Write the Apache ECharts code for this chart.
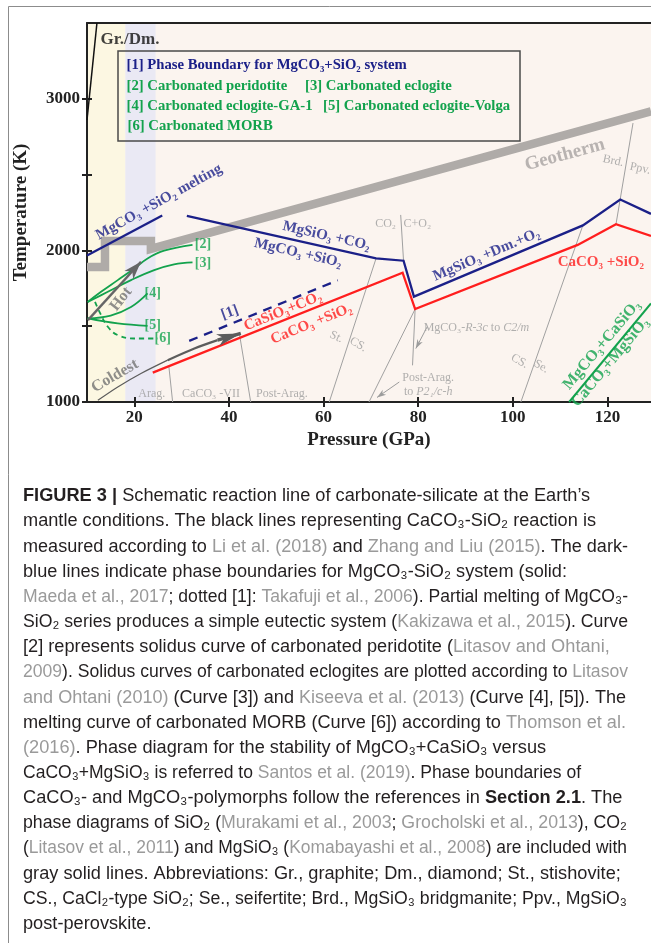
<!DOCTYPE html>
<html><head><meta charset="utf-8">
<script src="https://cdn.jsdelivr.net/npm/echarts@6/dist/echarts.min.js"></script>
<style>html,body{margin:0;padding:0;background:#fff;}#c{width:651px;height:943px;}</style>
</head><body><div id="c"></div>
<script>
// ================= DATA (GPa, K) =================
const xTicks = [20, 40, 60, 80, 100, 120];
const yTicks = [1000, 1500, 2000, 2500, 3000];
const yLabels = [1000, 2000, 3000];
const yellowBand = [10, 18.1];
const lavenderBand = [18.1, 24.5];
const geotherm = [[10,1890],[13.8,1890],[13.8,2062],[23.5,2062],[23.5,2010],[129.2,2918]];
const grDm = [[10,2860],[12.1,3500]];
const mgMelting = [[10,1966],[25.9,2230]];
const mgBoundary = [[31.1,2227],[71.1,1948],[76.9,1932],[79.1,1695],[114.8,2165],[122.7,2336],[129.2,2241]];
const mgTakafuji = [[31.6,1403],[63,1803]];
const caBoundary = [[23.9,1194],[76.7,1853],[79.35,1613],[113.7,2036],[121.8,2173],[129.2,2095]];
const curve2 = [[10.15,1660],[12.97,1727],[16.5,1804],[20,1881],[22.8,1947],[26.3,1998],[32.3,2036]];
const curve3 = [[10.15,1660],[14.4,1727],[19.3,1804],[24.2,1870],[28.4,1908],[32.3,1921]];
const curve4 = [[10.15,1551],[15,1570],[19.3,1626],[22.8,1716]];
const curve5 = [[10.15,1551],[16.5,1518],[22.8,1502]];
const curve6 = [[11.7,1661],[12.8,1584],[14.4,1496],[16.5,1441],[20,1419],[24.9,1419]];
const santos = [[111.9,1000],[129.2,1650]];
const greyBoundaries = [
  [[28.1,1000],[27.3,1235]],
  [[44.6,1000],[42.2,1452]],
  [[61.2,1000],[71.1,1948]],
  [[69.6,1000],[79.35,1613]],
  [[78.8,1242],[79.35,1613]],
  [[76.3,2234],[76.9,1932]],
  [[101.7,1000],[114.8,2165]],
  [[121.8,2173],[125.4,2840]]
];
const coldest = [[12.3,1011],[16.5,1099],[21.4,1188],[27.05,1276],[32.7,1353],[37.6,1408],[42.5,1452]];
const hot = [[10.2,1540],[21.4,1925]];
const pointerArrows = [[[81.9,1496],[79.5,1353]], [[76.0,1132],[71.3,1030]]];

// ================= ANNOTATIONS (text, anchor in data coords) =================
const notesBlack = [['Gr./Dm.', 19.1, 3388]];
const notesNavy = [
  ['MgCO\u2083 +SiO\u2082 melting', 25.2, 2319, 29],
  ['MgSiO\u2083 +CO\u2082', 60.6, 2095, -13],
  ['MgCO\u2083 +SiO\u2082', 54.6, 1983, -13],
  ['[1]', 40.2, 1590, 20],
  ['MgSiO\u2083 +Dm.+O\u2082', 94.4, 1970, 23]
];
const notesRed = [
  ['CaSiO\u2083+CO\u2082', 51.4, 1597, 22],
  ['CaCO\u2083 +SiO\u2082', 57.4, 1515, 22],
  ['CaCO\u2083 +SiO\u2082', 118.6, 1920, 0]
];
const notesGreen = [
  ['[2]', 34.5, 2039], ['[3]', 34.5, 1916], ['[4]', 23.9, 1719], ['[5]', 23.9, 1508], ['[6]', 26.0, 1422]
];
const notesGreenBig = [
  ['MgCO\u2083+CaSiO\u2083', 118.8, 1376, 50],
  ['CaCO\u2083+MgSiO\u2083', 120.6, 1262, 50]
];
const notesGeotherm = [['Geotherm', 111.0, 2630, 15]];
const notesArrow = [['Hot', 17.2, 1679, 52], ['Coldest', 15.9, 1172, 30]];
const notesSmall = [
  ['Arag.', 23.7, 1053, 0], ['CaCO\u2083 -VII', 36.2, 1053, 0], ['Post-Arag.', 51.2, 1053, 0],
  ['St.', 62.7, 1429, -25], ['CS.', 67.3, 1379, -30],
  ['CO\u2082', 73.1, 2174, 0], ['C+O\u2082', 79.8, 2174, 0],
  ['MgCO\u2083-{i|R-3c} to {i|C2/m}', 92.3, 1488, 0],
  ['Post-Arag.', 82.1, 1162, 0], ['to {i|P2\u2081/c-h}', 82.1, 1066, 0],
  ['CS.', 101.4, 1270, -30], ['Se.', 106.0, 1234, -30],
  ['Brd.', 121.2, 2590, -12], ['Ppv.', 126.9, 2540, -12]
];

// ================= STYLE =================
const serif = '"Liberation Serif","DejaVu Serif",serif';
const sans = '"Liberation Sans","DejaVu Sans",sans-serif';
const NAVY = '#1b2088', RED = '#ff1e1e', GREEN = '#13a24d', GREYL = '#9c9c9c', DARK = '#222222';
const XMIN = 10, XMAX = 129.2, YMIN = 1000, YMAX = 3500;

const chart = echarts.init(document.getElementById('c'), null, {renderer: 'canvas'});

function line(data, color, width, z, extra) {
  return Object.assign({
    type: 'line', data: data, symbol: 'none', silent: true, z: z, animation: false,
    lineStyle: {color: color, width: width, cap: 'butt', join: 'miter'}
  }, extra || {});
}
function notes(items, lab, z) {
  return {
    type: 'scatter', silent: true, z: z, symbolSize: 0, animation: false, clip: false,
    data: items.map(it => ({name: it[0], value: [it[1], it[2]], label: {rotate: it[3] || 0}})),
    label: Object.assign({show: true, position: 'inside', formatter: '{b}'}, lab)
  };
}
function arrowHeads(pairs, color, len, wid, z) {
  return {
    type: 'custom', coordinateSystem: 'cartesian2d', silent: true, z: z, animation: false,
    data: pairs.map(p => [p[0][0], p[0][1], p[1][0], p[1][1]]),
    encode: {x: [0, 2], y: [1, 3]},
    renderItem: function (params, api) {
      const a = api.coord([api.value(0), api.value(1)]);
      const b = api.coord([api.value(2), api.value(3)]);
      let dx = b[0] - a[0], dy = b[1] - a[1];
      const d = Math.hypot(dx, dy); dx /= d; dy /= d;
      const px = -dy, py = dx;
      const bx = b[0] - dx * len, by = b[1] - dy * len;
      const nx = b[0] - dx * len * 0.72, ny = b[1] - dy * len * 0.72;
      return {type: 'polygon', shape: {points: [[b[0], b[1]], [bx + px * wid / 2, by + py * wid / 2], [nx, ny], [bx - px * wid / 2, by - py * wid / 2]]},
        style: {fill: color}};
    }
  };
}
const bandSeries = {
  type: 'custom', coordinateSystem: 'cartesian2d', silent: true, z: 0, animation: false,
  data: [[yellowBand[0], yellowBand[1], 0], [lavenderBand[0], lavenderBand[1], 1]],
  encode: {x: [0, 1]},
  renderItem: function (params, api) {
    const p0 = api.coord([api.value(0), YMAX]);
    const p1 = api.coord([api.value(1), YMIN]);
    return {type: 'rect', shape: {x: p0[0], y: p0[1], width: p1[0] - p0[0], height: p1[1] - p0[1]},
      style: {fill: api.value(2) === 0 ? '#fcf7e2' : '#eae9f4'}};
  }
};

const series = [bandSeries];
greyBoundaries.forEach(b => series.push(line(b, '#a0a0a0', 1, 2)));
series.push(line(geotherm, '#afaba8', 8.5, 3));
series.push(line(grDm, '#111', 1.5, 4));
series.push(line(mgMelting, NAVY, 2.3, 5));
series.push(line(mgBoundary, NAVY, 2.3, 5));
series.push(line(mgTakafuji, NAVY, 2.3, 5, {lineStyle: {color: NAVY, width: 2.3, type: [9, 7]}}));
series.push(line(caBoundary, RED, 2.3, 5));
[curve2, curve3, curve4, curve5].forEach(c => series.push(line(c, GREEN, 1.8, 5, {smooth: 0.4})));
series.push(line(curve6, GREEN, 1.8, 5, {smooth: 0.4, lineStyle: {color: GREEN, width: 1.8, type: [5, 4]}}));
series.push(line(santos, GREEN, 2, 5));
// arrows
series.push(line(coldest.slice(0, 4), '#5c5c5c', 1.2, 6, {smooth: 0.3}));
series.push(line(coldest.slice(3, 6), '#5c5c5c', 2.2, 6, {smooth: 0.3}));
series.push(line(coldest.slice(5), '#5c5c5c', 3.4, 6));
series.push(arrowHeads([[coldest[coldest.length - 2], coldest[coldest.length - 1]]], '#5c5c5c', 24, 12, 6));
series.push(line(hot, '#666', 2.4, 6));
series.push(arrowHeads([[hot[0], hot[1]]], '#666', 18, 12, 6));
pointerArrows.forEach(p => series.push(line(p, '#9c9c9c', 1, 6)));
series.push(arrowHeads(pointerArrows, '#9c9c9c', 9, 6, 6));
// text notes
const boldSerif = (size, color) => ({fontFamily: serif, fontWeight: 'bold', fontSize: size, color: color});
series.push(notes(notesBlack, boldSerif(17, '#111'), 8));
series.push(notes(notesNavy, boldSerif(15, NAVY), 8));
series.push(notes(notesRed, boldSerif(15, RED), 8));
series.push(notes(notesGreen, boldSerif(14, GREEN), 8));
series.push(notes(notesGreenBig, boldSerif(16, GREEN), 8));
series.push(notes(notesGeotherm, boldSerif(19, '#a7a3a1'), 8));
series.push(notes(notesArrow, boldSerif(16, '#737373'), 8));
series.push(notes(notesSmall, {fontFamily: serif, fontSize: 12, color: GREYL,
  rich: {i: {fontFamily: serif, fontSize: 12, fontStyle: 'italic', color: GREYL}}}, 8));

const axisText = {fontFamily: serif, fontWeight: 'bold', fontSize: 17, color: DARK, formatter: v => String(v)};
const tickStyle = {color: DARK, width: 2};

// caption: [rich text, right end of the line in the reference]
const captionLines = [
  ['{b|FIGURE 3 |} Schematic reaction line of carbonate-silicate at the Earth\u2019s', 599],
  ['mantle conditions. The black lines representing CaCO\u2083-SiO\u2082 reaction is', 596],
  ['measured according to {g|Li et al. (2018)} and {g|Zhang and Liu (2015)}. The dark-', 628],
  ['blue lines indicate phase boundaries for MgCO\u2083-SiO\u2082 system (solid:', 567],
  ['{g|Maeda et al., 2017}; dotted [1]: {g|Takafuji et al., 2006}). Partial melting of MgCO\u2083-', 628],
  ['SiO\u2082 series produces a simple eutectic system ({g|Kakizawa et al., 2015}). Curve', 628],
  ['[2] represents solidus curve of carbonated peridotite ({g|Litasov and Ohtani,}', 622],
  ['{g|2009}). Solidus curves of carbonated eclogites are plotted according to {g|Litasov}', 628],
  ['{g|and Ohtani (2010)} (Curve [3]) and {g|Kiseeva et al. (2013)} (Curve [4], [5]). The', 626],
  ['melting curve of carbonated MORB (Curve [6]) according to {g|Thomson et al.}', 626],
  ['{g|(2016)}. Phase diagram for the stability of MgCO\u2083+CaSiO\u2083 versus', 568],
  ['CaCO\u2083+MgSiO\u2083 is referred to {g|Santos et al. (2019)}. Phase boundaries of', 581],
  ['CaCO\u2083- and MgCO\u2083-polymorphs follow the references in {b|Section 2.1}. The', 627],
  ['phase diagrams of SiO\u2082 ({g|Murakami et al., 2003}; {g|Grocholski et al., 2013}), CO\u2082', 627],
  ['({g|Litasov et al., 2011}) and MgSiO\u2083 ({g|Komabayashi et al., 2008}) are included with', 627],
  ['gray solid lines. Abbreviations: Gr., graphite; Dm., diamond; St., stishovite;', 621],
  ['CS., CaCl\u2082-type SiO\u2082; Se., seifertite; Brd., MgSiO\u2083 bridgmanite; Ppv., MgSiO\u2083', 627],
  ['post-perovskite.', 170]
];
const CAP_FS = 17.5, CAP_X = 23;
const ctx = document.createElement('canvas').getContext('2d');
function measureRich(t) {
  let w = 0; const re = /\{(\w+)\|([^}]*)\}/g; let last = 0, m;
  const seg = (s, bold) => { ctx.font = (bold ? 'bold ' : '') + CAP_FS + 'px "Liberation Sans"'; w += ctx.measureText(s).width; };
  while ((m = re.exec(t))) { seg(t.slice(last, m.index), false); seg(m[2], m[1] === 'b'); last = re.lastIndex; }
  seg(t.slice(last), false);
  return w;
}
const capRich = {
  b: {fontFamily: sans, fontSize: CAP_FS, fontWeight: 'bold', fill: '#231f20'},
  g: {fontFamily: sans, fontSize: CAP_FS, fill: '#9a9a9a'}
};
const graphics = [
  {type: 'line', shape: {x1: 8.5, y1: 6.5, x2: 651, y2: 6.5}, style: {stroke: '#8c8c8c', lineWidth: 1}, silent: true},
  {type: 'line', shape: {x1: 8.5, y1: 6.5, x2: 8.5, y2: 943}, style: {stroke: '#8c8c8c', lineWidth: 1}, silent: true},
  {type: 'rect', shape: {x: 118, y: 51, width: 402, height: 90}, style: {fill: 'none', stroke: '#4a4a4a', lineWidth: 1.5}, z: 10, silent: true}
];
const legendLines = [
  ['[1] Phase Boundary for MgCO\u2083+SiO\u2082 system', 126.5, 65, NAVY],
  ['[2] Carbonated peridotite', 126.5, 86, GREEN],
  ['[3] Carbonated eclogite', 305, 86, GREEN],
  ['[4] Carbonated eclogite-GA-1', 126.5, 106, GREEN],
  ['[5] Carbonated eclogite-Volga', 323, 106, GREEN],
  ['[6] Carbonated MORB', 127.5, 126, GREEN]
];
legendLines.forEach(l => graphics.push({type: 'text', x: l[1], y: l[2], z: 10, silent: true,
  style: {text: l[0], fontFamily: serif, fontWeight: 'bold', fontSize: 14.7, fill: l[3], align: 'left', verticalAlign: 'middle'}}));
captionLines.forEach((c, i) => {
  const sx = Math.min(1.04, (c[1] - CAP_X) / measureRich(c[0]));
  graphics.push({type: 'text', x: CAP_X, y: 496.5 + 25.15 * i, scaleX: sx, silent: true,
    style: {text: c[0], fontFamily: sans, fontSize: CAP_FS, fill: '#231f20', align: 'left', verticalAlign: 'middle', rich: capRich}});
});

chart.setOption({
  animation: false,
  backgroundColor: '#ffffff',
  grid: {left: 87, right: 0, top: 23, bottom: 541, show: true, backgroundColor: '#fbf4ef', borderWidth: 0, outerBoundsMode: 'none'},
  xAxis: [
    {type: 'value', min: XMIN, max: XMAX, position: 'bottom',
      axisLine: {show: true, onZero: false, lineStyle: {color: DARK, width: 2}},
      axisTick: {show: true, customValues: xTicks, length: 5, lineStyle: tickStyle},
      axisLabel: Object.assign({show: true, customValues: xTicks, margin: 7}, axisText),
      splitLine: {show: false},
      name: 'Pressure (GPa)', nameLocation: 'middle', nameGap: 29,
      nameTextStyle: {fontFamily: serif, fontWeight: 'bold', fontSize: 19, color: DARK}},
    {type: 'value', min: XMIN, max: XMAX, position: 'bottom',
      axisLine: {show: false, onZero: false},
      axisTick: {show: true, inside: true, customValues: xTicks, length: 5, lineStyle: tickStyle},
      axisLabel: {show: false}, splitLine: {show: false}},
    {type: 'value', min: XMIN, max: XMAX, position: 'top',
      axisLine: {show: true, onZero: false, lineStyle: {color: DARK, width: 2}},
      axisTick: {show: false}, axisLabel: {show: false}, splitLine: {show: false}}
  ],
  yAxis: [
    {type: 'value', min: YMIN, max: YMAX, position: 'left',
      axisLine: {show: true, onZero: false, lineStyle: {color: DARK, width: 2}},
      axisTick: {show: true, customValues: yTicks, length: 5, lineStyle: tickStyle},
      axisLabel: Object.assign({show: true, customValues: yLabels, margin: 7}, axisText),
      splitLine: {show: false},
      name: 'Temperature (K)', nameLocation: 'middle', nameGap: 56,
      nameTextStyle: {fontFamily: serif, fontWeight: 'bold', fontSize: 19, color: DARK}},
    {type: 'value', min: YMIN, max: YMAX, position: 'left',
      axisLine: {show: false, onZero: false},
      axisTick: {show: true, inside: true, customValues: yTicks, length: 5, lineStyle: tickStyle},
      axisLabel: {show: false}, splitLine: {show: false}}
  ],
  series: series,
  graphic: {elements: graphics}
});
</script></body></html>
